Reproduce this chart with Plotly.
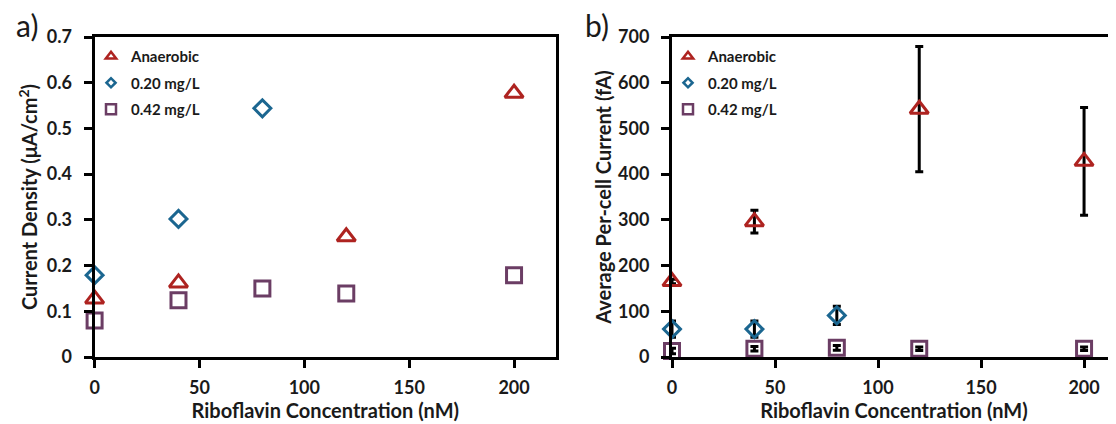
import plotly.graph_objects as go

# ---------------- data ----------------
series_names = ["Anaerobic", "0.20 mg/L", "0.42 mg/L"]

# panel a) current density (uA/cm^2)
a_anaer_x = [0, 40, 120, 200]
a_anaer_y = [0.127, 0.162, 0.263, 0.577]
a_o20_x = [0, 40, 80]
a_o20_y = [0.179, 0.302, 0.544]
a_o42_x = [0, 40, 80, 120, 200]
a_o42_y = [0.080, 0.124, 0.150, 0.139, 0.179]

# panel b) average per-cell current (fA) with error
b_anaer_x = [0, 40, 120, 200]
b_anaer_y = [165, 296, 542, 428]
b_anaer_err = [5, 25, 137, 118]
b_o20_x = [0, 40, 80]
b_o20_y = [61, 61, 91]
b_o20_err = [18, 18, 20]
b_o42_x = [0, 40, 80, 120, 200]
b_o42_y = [13, 18, 20, 18, 18]
b_o42_err = [6, 5, 5, 4, 4]

a_yticks = [0, 0.1, 0.2, 0.3, 0.4, 0.5, 0.6, 0.7]
a_yticklabels = ["0", "0.1", "0.2", "0.3", "0.4", "0.5", "0.6", "0.7"]
b_yticks = [0, 100, 200, 300, 400, 500, 600, 700]
x_ticks = [0, 50, 100, 150, 200]

# ---------------- style ----------------
FONT = "Lato"
RED = "#AE2320"
BLUE = "#1B6690"
PURPLE = "#6B3D64"
colors = [RED, BLUE, PURPLE]
symbols = ["triangle-up-open", "diamond-open", "square-open"]
sizes = [16, 13, 15]

OFF = 8  # page body margin
W, H = 1116 - OFF, 424 - OFF
def px(xp):
    return (xp - OFF) / W
def py(yp):
    return 1 - (yp - OFF) / H

fig = go.Figure()

a_data = [(a_anaer_x, a_anaer_y), (a_o20_x, a_o20_y), (a_o42_x, a_o42_y)]
b_data = [(b_anaer_x, b_anaer_y, b_anaer_err), (b_o20_x, b_o20_y, b_o20_err),
          (b_o42_x, b_o42_y, b_o42_err)]

for i, (xs, ys) in enumerate(a_data):
    fig.add_trace(go.Scatter(
        x=xs, y=ys, mode="markers", name=series_names[i], showlegend=False,
        xaxis="x", yaxis="y", cliponaxis=False,
        marker=dict(symbol=symbols[i], size=sizes[i], color=colors[i],
                    line=dict(width=3, color=colors[i]))))

for i, (xs, ys, es) in enumerate(b_data):
    fig.add_trace(go.Scatter(
        x=xs, y=ys, mode="markers", name=series_names[i], showlegend=False,
        xaxis="x2", yaxis="y2", cliponaxis=False,
        error_y=dict(type="data", array=es, visible=True, color="black",
                     thickness=3, width=4),
        marker=dict(symbol=symbols[i], size=sizes[i], color=colors[i],
                    line=dict(width=3, color=colors[i]))))

# legend entries (smaller symbols as in the reference)
for leg, xa, ya in [("legend", "x", "y"), ("legend2", "x2", "y2")]:
    for i in range(3):
        fig.add_trace(go.Scatter(
            x=[None], y=[None], mode="markers", name=series_names[i],
            legend=leg, legendgroup=f"{leg}{i}", xaxis=xa, yaxis=ya,
            marker=dict(symbol=symbols[i], size=[9, 7, 10][i], color=colors[i],
                        line=dict(width=2.5, color=colors[i]))))

tickfont = dict(family=FONT, size=18, color="#1a1a1a", weight="bold")
titlefont = dict(family=FONT, size=20, color="#1a1a1a", weight="bold")

common_x = dict(range=[0, 220], tickvals=x_ticks, showline=True, linewidth=3,
                linecolor="black", mirror=True, ticks="outside", ticklen=8,
                tickwidth=3, tickcolor="black", showgrid=False, zeroline=False,
                tickfont=tickfont, automargin=False, ticklabelstandoff=4)
common_y = dict(showline=True, linewidth=3, linecolor="black", mirror=True,
                ticks="outside", ticklen=8, tickwidth=3, tickcolor="black",
                showgrid=False, zeroline=False, tickfont=tickfont, automargin=False,
                ticklabelstandoff=8)

ydom = [py(357), py(37)]
x2_end = 215.5

fig.update_layout(
    width=W, height=H,
    margin=dict(l=0, r=0, t=0, b=0),
    paper_bgcolor="white", plot_bgcolor="white",
    font=dict(family=FONT, color="#1a1a1a"),
    xaxis=dict(domain=[px(94.6), px(556)], anchor="y",
               title=dict(text="Riboflavin Concentration (nM)", font=titlefont, standoff=0),
               **common_x),
    yaxis=dict(domain=ydom, anchor="x", range=[0, 0.7], tickvals=a_yticks,
               ticktext=a_yticklabels,
               title=dict(text="Current Density (μA/cm<sup>2</sup>)", font=titlefont, standoff=4),
               **common_y),
    xaxis2=dict(domain=[px(672), 1.0], anchor="y2",
                title=dict(text="Riboflavin Concentration (nM)", font=titlefont, standoff=0),
                **{**common_x, "range": [0, x2_end]}),
    yaxis2=dict(domain=ydom, anchor="x2", range=[0, 700], tickvals=b_yticks,
                title=dict(text="Average Per-cell Current (fA)", font=titlefont, standoff=2),
                **common_y),
    legend=dict(x=px(91), y=py(40), xanchor="left", yanchor="top",
                bgcolor="rgba(0,0,0,0)", tracegroupgap=4,
                font=dict(family=FONT, size=15, color="#1a1a1a", weight="bold")),
    legend2=dict(x=px(668), y=py(40), xanchor="left", yanchor="top",
                 bgcolor="rgba(0,0,0,0)", tracegroupgap=4,
                 font=dict(family=FONT, size=15, color="#1a1a1a", weight="bold")),
    annotations=[
        dict(text="a)", x=px(27), y=py(25), xref="paper", yref="paper",
             xanchor="center", yanchor="middle",
             showarrow=False, font=dict(family=FONT, size=30, color="#1a1a1a")),
        dict(text="b)", x=px(597), y=py(25), xref="paper", yref="paper",
             xanchor="center", yanchor="middle",
             showarrow=False, font=dict(family=FONT, size=30, color="#1a1a1a")),
    ],
)

fig.write_html("out.html")
